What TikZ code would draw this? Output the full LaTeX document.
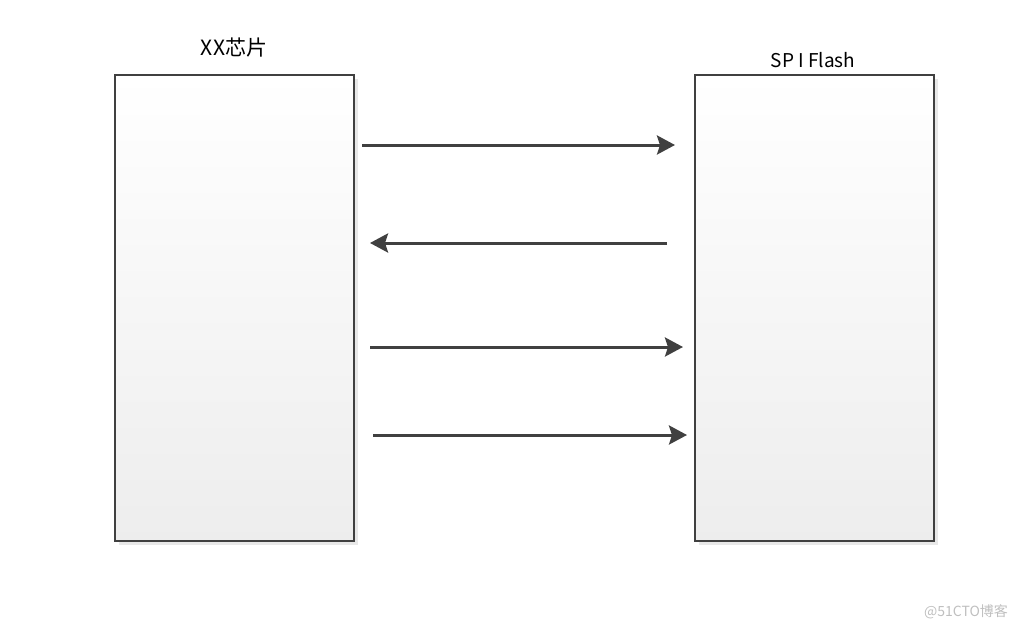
\documentclass[tikz,border=0pt]{standalone}
\usepackage{fontspec}
\setmainfont{Noto Sans CJK SC}
\usetikzlibrary{arrows.meta,shadows}

\begin{document}
\begin{tikzpicture}[x=1pt,y=-1pt,
                    block/.style={draw=black!75,line width=1.2pt,
                      shading=axis,top color=white,bottom color=black!7,
                      minimum width=239pt,minimum height=466pt,inner sep=0pt,
                      copy shadow={shadow xshift=3.5pt,shadow yshift=-3.5pt,
                        fill=black!9,draw=none}},
                    sig/.style={draw=black!75,line width=3pt,
                      -{Stealth[length=18pt,width=19pt,inset=3pt]}},
                    title/.style={font=\fontsize{19}{22}\selectfont}]
\useasboundingbox (0,0) rectangle (1020,629);

\node[block] (CHIP) at(234.5,308) {};
\node[block] (FLASH) at(814.5,308) {};

\node[title,font=\fontsize{21}{24}\selectfont] (CHIPT) at(234,48) {XX芯片};
\node[title] (FLASHT) at(813,60) {SP I Flash};

% signal lines between the two blocks
\coordinate (S1) at(362,145);  \coordinate (E1) at(675,145);
\coordinate (S2) at(667,243);  \coordinate (E2) at(370,243);
\coordinate (S3) at(370,347);  \coordinate (E3) at(683,347);
\coordinate (S4) at(373,435);  \coordinate (E4) at(687,435);

\draw[sig] (S1) -- (E1);
\draw[sig] (S2) -- (E2);
\draw[sig] (S3) -- (E3);
\draw[sig] (S4) -- (E4);

\node[text=black!25,font=\fontsize{14}{16}\selectfont] (MARK) at(966,612) {@51CTO博客};
\end{tikzpicture}
\end{document}
